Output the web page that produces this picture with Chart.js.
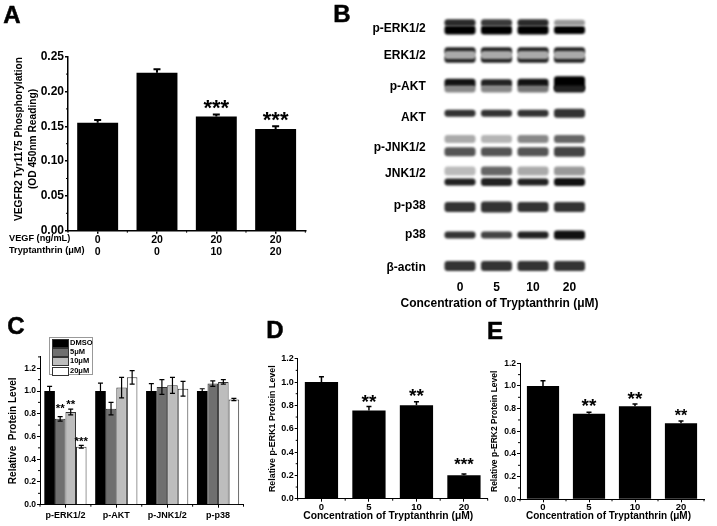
<!DOCTYPE html>
<html>
<head>
<meta charset="utf-8">
<title>Tryptanthrin figure</title>
<script src="https://cdn.jsdelivr.net/npm/chart.js@4"></script>
<style>
  html, body { margin: 0; background: #fff; }
  #fig { position: relative; width: 717px; height: 526px; overflow: hidden; filter: blur(.35px); font-family: "Liberation Sans", Arial, sans-serif; font-weight: bold; color: #000; }
  #fig canvas { position: absolute; }
  .note { position: absolute; white-space: nowrap; line-height: 1; transform: translate(-50%, -50%); }
  .left { transform: translate(0, -50%); }
  .rot { transform: translate(-50%, -50%) rotate(-90deg); }
  .letter { -webkit-text-stroke: .5px #000; }
  #cLegend { position: absolute; left: 49px; top: 337px; width: 42px; height: 36px; border: 1px solid #999; background: #fff; box-sizing: content-box; }
  #cLegend div { position: absolute; left: 2px; height: 7px; font-size: 7.5px; line-height: 7px; padding-left: 18px; }
  #cLegend i { position: absolute; left: 0; top: 0; width: 15px; height: 7px; border: .5px solid #333; }
</style>
</head>
<body>
<div id="fig"></div>
<script>
'use strict';
// Panel A: VEGFR2 phosphorylation
const aVegf = [0, 20, 20, 20];
const aTrypt = [0, 0, 10, 20];
const aValues = [0.155, 0.227, 0.164, 0.146];
const aErr = [0.004, 0.005, 0.003, 0.004];
const aStars = [null, null, '***', '***'];
const aStarY = [0, 0, 0.178, 0.161];

// Panel B: blot rows and bands (positions along the blot, darkness by lane)
const lanes = ['0', '5', '10', '20'];
const blotRows = ['p-ERK1/2', 'ERK1/2', 'p-AKT', 'AKT', 'p-JNK1/2', 'JNK1/2', 'p-p38', 'p38', 'β-actin'];
const blotRowAt = [19, 46, 77, 108, 138, 164, 196, 225, 258];
const bandAt = [12.7, 20, 45, 40.7, 49.3, 79, 73.3, 103.3, 129, 141.7, 161, 172, 197, 225, 256];
const bandHalf = [
  [3.5, 3.5, 3.5, 3], [4.5, 4.5, 4.5, 4], [4, 4, 4, 4], [3.5, 3.5, 3.5, 3.5], [3.5, 3.5, 3.5, 3.5],
  [3.5, 3.5, 3.5, 3.5], [4.5, 4, 4.5, 7], [3.5, 3.5, 3.5, 4.5], [4, 4, 4, 4], [4.5, 4.5, 4.5, 5],
  [4.5, 4.5, 4.5, 4.5], [3.5, 4, 3.5, 4], [5, 5.5, 5, 5], [3.5, 3.5, 3.5, 4.5], [5, 5, 5, 5],
];
const bandShade = [
  ['#2a2a2a', '#3a3a3a', '#2a2a2a', '#999'], ['#000', '#000', '#000', '#000'],
  ['#aaa', '#aaa', '#aaa', '#aaa'], ['#222', '#222', '#222', '#222'], ['#222', '#222', '#222', '#222'],
  ['#888', '#888', '#777', '#222'], ['#111', '#222', '#111', '#000'], ['#333', '#333', '#333', '#333'],
  ['#aaa', '#b5b5b5', '#888', '#666'], ['#555', '#555', '#555', '#444'],
  ['#bbb', '#666', '#aaa', '#999'], ['#222', '#222', '#222', '#111'],
  ['#333', '#333', '#333', '#333'], ['#333', '#444', '#222', '#111'], ['#333', '#333', '#333', '#333'],
];

// Panel C: relative protein level
const cGroups = ['p-ERK1/2', 'p-AKT', 'p-JNK1/2', 'p-p38'];
const cLabels = ['DMSO', '5μM', '10μM', '20μM'];
const cColors = ['#000', '#6f6f6f', '#bdbdbd', '#fff'];
const cValues = [
  [1.0, 1.0, 1.0, 1.0],
  [0.755, 0.845, 1.035, 1.065],
  [0.815, 1.03, 1.05, 1.08],
  [0.51, 1.12, 1.02, 0.925],
];
const cErr = [
  [0.04, 0.07, 0.065, 0.02],
  [0.02, 0.055, 0.065, 0.025],
  [0.025, 0.09, 0.07, 0.02],
  [0.012, 0.06, 0.065, 0.01],
];
const cStars = [[null, null, null, null], ['**', null, null, null], ['**', null, null, null], ['***', null, null, null]];
const cStarY = [[0, 0, 0, 0], [0.853, 0, 0, 0], [0.886, 0, 0, 0], [0.56, 0, 0, 0]];

// Panels D and E: p-ERK1, p-ERK2
const doses = ['0', '5', '10', '20'];
const dValues = [1.0, 0.755, 0.80, 0.20];
const dErr = [0.045, 0.035, 0.03, 0.012];
const dStars = [null, '**', '**', '***'];
const dStarY = [0, 0.84, 0.889, 0.297];
const eValues = [1.0, 0.755, 0.82, 0.67];
const eErr = [0.045, 0.012, 0.02, 0.02];
const eStars = [null, '**', '**', '**'];
const eStarY = [0, 0.832, 0.897, 0.745];

const fig = document.getElementById('fig');
Chart.defaults.font.family = '"Liberation Sans", Arial, sans-serif';
Chart.defaults.font.weight = 'bold';
Chart.defaults.color = '#000';
Chart.defaults.animation = false;

// error bars, star marks and small ticks are not in Chart.js, so draw them off the live scales
const marks = {
  id: 'marks',
  afterDatasetsDraw(chart, args, opts) {
    const ctx = chart.ctx, y = chart.scales.y, x = chart.scales.x;
    ctx.save();
    ctx.strokeStyle = '#000';
    ctx.fillStyle = '#000';
    chart.data.datasets.forEach((ds, k) => {
      if (!ds.errs) return;
      const meta = chart.getDatasetMeta(k);
      meta.data.forEach((bar, i) => {
        const top = y.getPixelForValue(ds.data[i] + ds.errs[i]);
        const low = opts.both ? y.getPixelForValue(ds.data[i] - ds.errs[i]) : y.getPixelForValue(ds.data[i]);
        ctx.lineWidth = opts.lineWidth;
        ctx.beginPath();
        ctx.moveTo(bar.x, top); ctx.lineTo(bar.x, low);
        ctx.moveTo(bar.x - opts.cap, top); ctx.lineTo(bar.x + opts.cap, top);
        if (opts.both) { ctx.moveTo(bar.x - opts.cap, low); ctx.lineTo(bar.x + opts.cap, low); }
        ctx.stroke();
        if (ds.stars && ds.stars[i]) {
          const size = ds.starSize[i];
          ctx.font = 'bold ' + size + 'px "Liberation Sans", Arial, sans-serif';
          ctx.textAlign = 'center';
          ctx.textBaseline = 'alphabetic';
          ctx.fillText(ds.stars[i], bar.x, y.getPixelForValue(ds.starY[i]) + size * 0.38);
        }
      });
    });
    ctx.lineWidth = 1;
    ctx.beginPath();
    for (let v = opts.minorY; v < y.max; v += 2 * opts.minorY) {
      const py = y.getPixelForValue(v);
      ctx.moveTo(x.left, py); ctx.lineTo(x.left - 2, py);
    }
    for (let i = 0; i <= x.ticks.length; i++) {
      const px = x.getPixelForValue(i - 0.5);
      ctx.moveTo(px, y.bottom); ctx.lineTo(px, y.bottom + 2);
    }
    ctx.stroke();
    ctx.restore();
  },
};

// soft edges for the blot bands only
const blotBlur = {
  id: 'blotBlur',
  beforeDatasetsDraw(chart) { chart.ctx.save(); chart.ctx.filter = 'blur(1px)'; },
  afterDatasetsDraw(chart) { chart.ctx.restore(); },
};

function addCanvas(box) {
  const c = document.createElement('canvas');
  c.width = box.w; c.height = box.h;
  c.style.left = box.l + 'px'; c.style.top = box.t + 'px';
  c.style.width = box.w + 'px'; c.style.height = box.h + 'px';
  fig.appendChild(c);
  return c;
}

function note(text, x, y, size, cls) {
  const d = document.createElement('div');
  d.className = 'note ' + (cls || '');
  d.textContent = text;
  d.style.left = x + 'px'; d.style.top = y + 'px'; d.style.fontSize = size + 'px';
  fig.appendChild(d);
}

// axis-style bar panel; box is the canvas, plot the wanted axis rectangle, both in page pixels
function barPanel(box, plot, labels, datasets, s) {
  return new Chart(addCanvas(box), {
    type: 'bar',
    data: { labels, datasets },
    options: {
      responsive: false,
      layout: { padding: { left: 0, bottom: 0, top: plot.y0 - box.t, right: box.l + box.w - plot.x1 } },
      plugins: { legend: { display: false }, tooltip: { enabled: false }, marks: s.marks },
      scales: {
        x: {
          offset: true,
          grid: { offset: false, drawOnChartArea: false, color: '#000', lineWidth: s.axisWidth, tickLength: 3 },
          border: { color: '#000', width: s.axisWidth },
          ticks: { font: { size: s.xFont, lineHeight: 1.1 }, padding: s.xPad, maxRotation: 0, autoSkip: false },
          afterFit: (sc) => { sc.height = box.t + box.h - plot.y1; },
        },
        y: {
          min: 0, max: s.max,
          grid: { drawOnChartArea: false, color: '#000', lineWidth: s.axisWidth, tickLength: 3 },
          border: { color: '#000', width: s.axisWidth },
          ticks: { stepSize: s.step, includeBounds: false, font: { size: s.yFont }, padding: 1, callback: (v) => v.toFixed(s.digits) },
          title: s.yTitle ? { display: true, text: s.yTitle.text, font: { size: s.yTitle.size }, padding: { top: s.yTitle.pad, bottom: 0 } } : { display: false },
          afterFit: (sc) => { sc.width = plot.x0 - box.l; },
        },
      },
    },
    plugins: [marks],
  });
}

function blackBars(values, errs, stars, starY, starSize, pct) {
  return [{ data: values, errs, stars, starY, starSize, backgroundColor: '#000', barPercentage: pct, categoryPercentage: 1 }];
}

// A
barPanel({ l: 0, t: 40, w: 320, h: 230 }, { x0: 68, y0: 56.7, x1: 305.3, y1: 230.7 },
  aVegf.map((v, i) => [String(v), String(aTrypt[i])]),
  blackBars(aValues, aErr, aStars, aStarY, [22, 22, 22, 22], 0.69),
  { max: 0.25, step: 0.05, digits: 2, xFont: 10.5, yFont: 12, xPad: 1, axisWidth: 1.5,
    marks: { lineWidth: 2, cap: 3.5, minorY: 0.025 } });

// B
new Chart(addCanvas({ l: 320, t: 0, w: 397, h: 310 }), {
  type: 'bar',
  data: {
    labels: lanes,
    datasets: bandAt.map((c, b) => ({
      data: lanes.map((_, j) => [c - bandHalf[b][j], c + bandHalf[b][j]]),
      backgroundColor: bandShade[b],
      grouped: false,
      barPercentage: 0.85, categoryPercentage: 1, borderRadius: 3, borderSkipped: false,
    })),
  },
  options: {
    responsive: false,
    layout: { padding: { left: 0, bottom: 0, top: 10, right: 129.25 } },
    plugins: { legend: { display: false }, tooltip: { enabled: false } },
    scales: {
      x: {
        grid: { display: false, tickLength: 0 }, border: { display: false },
        ticks: { font: { size: 12 }, padding: 0, maxRotation: 0 },
        afterFit: (sc) => { sc.height = 30; },
      },
      y: {
        reverse: true, min: 0, max: 270,
        grid: { display: false, tickLength: 15 }, border: { display: false },
        ticks: { font: { size: 12 }, padding: 1, autoSkip: false, callback: (v, i) => blotRows[i] },
        afterBuildTicks: (sc) => { sc.ticks = blotRowAt.map((v) => ({ value: v })); },
        afterFit: (sc) => { sc.width = 121.75; },
      },
    },
  },
  plugins: [blotBlur],
});
note('Concentration of Tryptanthrin (μM)', 499.5, 303, 12);

// C
barPanel({ l: 0, t: 340, w: 250, h: 186 }, { x0: 40, y0: 356.9, x1: 243.5, y1: 504.7 }, cGroups,
  cLabels.map((label, k) => ({
    label, data: cValues[k], errs: cErr[k], stars: cStars[k], starY: cStarY[k], starSize: [11.5, 11.5, 11.5, 11.5],
    backgroundColor: cColors[k], borderColor: '#333', borderWidth: k ? 1 : 0,
    barPercentage: 1, categoryPercentage: 0.83,
  })),
  { max: 1.3, step: 0.2, digits: 1, xFont: 9, yFont: 8.5, xPad: 3, axisWidth: 1,
    yTitle: { text: 'Relative  Protein Level', size: 10, pad: 7 },
    marks: { lineWidth: 1.2, cap: 2.5, both: true, minorY: 0.1 } });

// D
barPanel({ l: 250, t: 340, w: 240, h: 186 }, { x0: 297.7, y0: 358.7, x1: 487.7, y1: 498.7 }, doses,
  blackBars(dValues, dErr, dStars, dStarY, [19, 19, 19, 16.5], 0.7),
  { max: 1.2, step: 0.2, digits: 1, xFont: 9.5, yFont: 9, xPad: 0, axisWidth: 1,
    yTitle: { text: 'Relative p-ERK1 Protein Level', size: 8.9, pad: 17 },
    marks: { lineWidth: 1.5, cap: 2.5, minorY: 0.1 } });
note('Concentration of Tryptanthrin (μM)', 388.3, 516, 10.3);

// E
barPanel({ l: 480, t: 340, w: 237, h: 186 }, { x0: 520, y0: 363.3, x1: 704, y1: 499.3 }, doses,
  blackBars(eValues, eErr, eStars, eStarY, [19, 19, 19, 16], 0.7),
  { max: 1.2, step: 0.2, digits: 1, xFont: 9.5, yFont: 8.5, xPad: 0, axisWidth: 1,
    yTitle: { text: 'Relative p-ERK2 Protein Level', size: 8.5, pad: 10 },
    marks: { lineWidth: 1.5, cap: 2.5, minorY: 0.1 } });
note('Concentration of Tryptanthrin (μM)', 608.5, 516, 10);

// panel text that sits away from the axes
note('VEGFR2 Tyr1175 Phosphorylation', 19, 138.5, 10.2, 'rot');
note('(OD 450nm Reading)', 33, 138.5, 10.2, 'rot');
note('VEGF (ng/mL)', 9, 239, 9.2, 'left');
note('Tryptanthrin (μM)', 9, 251, 9.2, 'left');
note('A', 12, 15, 24, 'letter');
note('B', 342, 14, 24, 'letter');
note('C', 16, 326, 24, 'letter');
note('D', 275, 330, 24, 'letter');
note('E', 495, 331, 24, 'letter');

// C legend
const legend = document.createElement('div');
legend.id = 'cLegend';
legend.innerHTML = cLabels.map((l, i) => '<div style="top:' + (1 + i * 9.2) + 'px"><i style="background:' + cColors[i] + '"></i>' + l + '</div>').join('');
fig.appendChild(legend);
</script>
</body>
</html>
